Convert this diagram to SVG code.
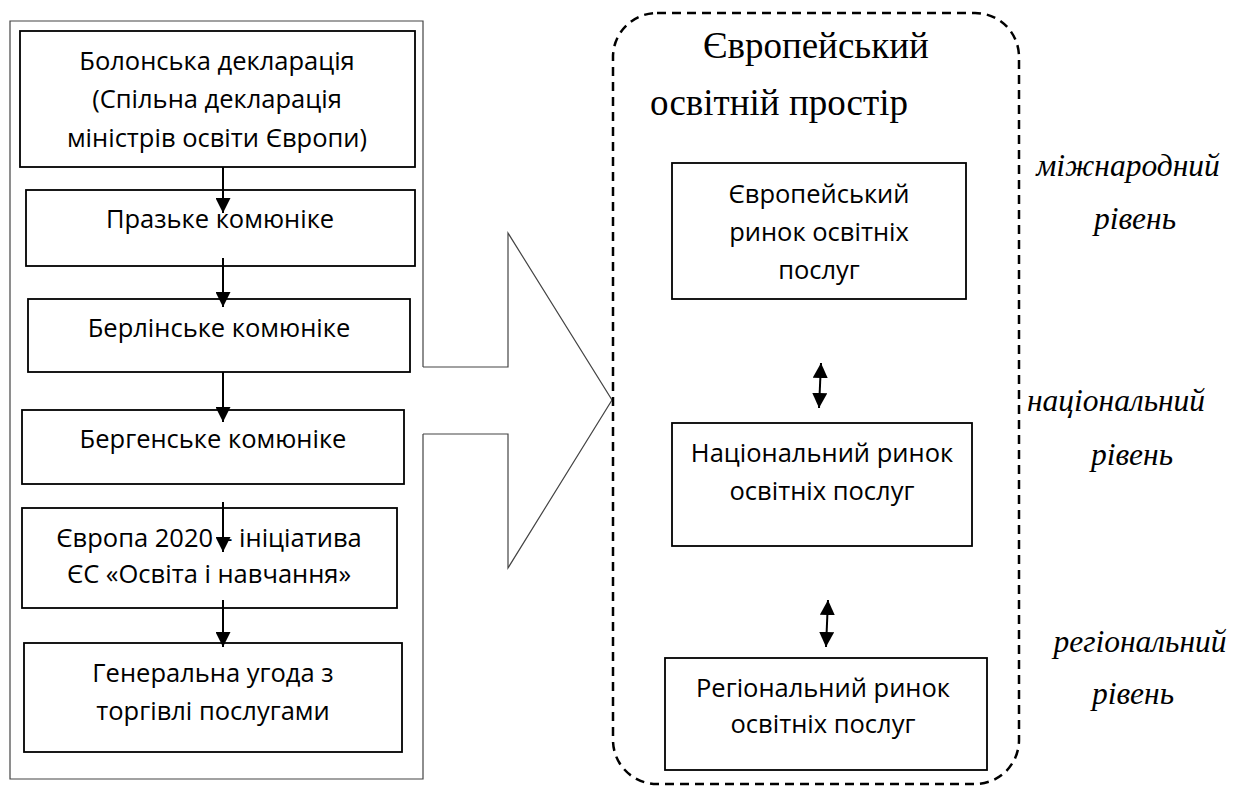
<svg xmlns="http://www.w3.org/2000/svg" width="1242" height="786" viewBox="0 0 1242 786">
<style>
.box{fill:#fff;stroke:#000;stroke-width:1.8}
.t{font-family:"Open Sans","Liberation Sans",sans-serif;font-size:25.5px;fill:#000;text-anchor:middle}
.title{font-family:"Liberation Serif","Times New Roman",serif;font-size:37px;fill:#000}
.lvl{font-family:"Liberation Serif","Times New Roman",serif;font-style:italic;font-size:31.5px;fill:#000;text-anchor:middle}
.ln{stroke:#000;stroke-width:2;fill:none}
.outline{fill:none;stroke:#444;stroke-width:1.2}
</style>
<defs>
<marker id="ah" viewBox="0 0 10 10" refX="10" refY="5" markerWidth="7.5" markerHeight="7.5" markerUnits="strokeWidth" orient="auto">
<path d="M0,0 L10,5 L0,10 Z" fill="#000"/>
</marker>
<marker id="ahs" viewBox="0 0 10 10" refX="0" refY="5" markerWidth="7.5" markerHeight="7.5" markerUnits="strokeWidth" orient="auto">
<path d="M10,0 L0,5 L10,10 Z" fill="#000"/>
</marker>
</defs>
<rect width="1242" height="786" fill="#fff"/>

<g id="frame">
<path class="outline" d="M423,367 L423,21 L10,21 L10,779 L423,779 L423,434"/>
<path class="outline" d="M423,367 L508,367 L508,233 L612,400 L508,568 L508,434 L423,434"/>
</g>

<g id="space">
<rect x="613" y="13" width="406" height="771" rx="44" ry="44" fill="none" stroke="#000" stroke-width="2.5" stroke-dasharray="9,6"/>
<text class="title" x="703" y="58">Європейський</text>
<text class="title" x="650" y="115">освітній простір</text>
</g>

<g id="n1"><rect class="box" x="20" y="31" width="395" height="136"/>
<text class="t" x="217" y="70">Болонська декларація</text>
<text class="t" x="217" y="108">(Спільна декларація</text>
<text class="t" x="217" y="147">міністрів освіти Європи)</text></g>
<g id="n2"><rect class="box" x="26" y="190" width="389" height="76"/>
<text class="t" x="220" y="228">Празьке комюніке</text></g>
<g id="n3"><rect class="box" x="28" y="299" width="382" height="73"/>
<text class="t" x="219" y="337">Берлінське комюніке</text></g>
<g id="n4"><rect class="box" x="22" y="410" width="382" height="74"/>
<text class="t" x="213" y="448">Бергенське комюніке</text></g>
<g id="n5"><rect class="box" x="22" y="508" width="375" height="100"/>
<text class="t" x="209" y="547">Європа 2020 – ініціатива</text>
<text class="t" x="209" y="583">ЄС «Освіта і навчання»</text></g>
<g id="n6"><rect class="box" x="24" y="643" width="378" height="109"/>
<text class="t" x="213" y="682">Генеральна угода з</text>
<text class="t" x="213" y="720">торгівлі послугами</text></g>

<g id="r1"><rect class="box" x="672" y="163" width="294" height="136"/>
<text class="t" x="819" y="203">Європейський</text>
<text class="t" x="819" y="241">ринок освітніх</text>
<text class="t" x="819" y="279">послуг</text></g>
<g id="r2"><rect class="box" x="672" y="423" width="300" height="123"/>
<text class="t" x="822" y="462">Національний ринок</text>
<text class="t" x="822" y="500">освітніх послуг</text></g>
<g id="r3"><rect class="box" x="665" y="658" width="322" height="112"/>
<text class="t" x="823" y="697">Регіональний ринок</text>
<text class="t" x="823" y="733">освітніх послуг</text></g>

<g id="levels">
<text class="lvl" x="1128" y="176">міжнародний</text>
<text class="lvl" x="1135" y="229">рівень</text>
<text class="lvl" x="1116" y="411">національний</text>
<text class="lvl" x="1132" y="465">рівень</text>
<text class="lvl" x="1140" y="652">регіональний</text>
<text class="lvl" x="1133" y="704">рівень</text>
</g>

<g id="connectors">
<line class="ln" x1="223" y1="167" x2="223" y2="213" marker-end="url(#ah)"/>
<line class="ln" x1="223" y1="258" x2="223" y2="307" marker-end="url(#ah)"/>
<line class="ln" x1="223" y1="372" x2="223" y2="422" marker-end="url(#ah)"/>
<line class="ln" x1="223" y1="502" x2="223" y2="552" marker-end="url(#ah)"/>
<line class="ln" x1="223" y1="600" x2="223" y2="647" marker-end="url(#ah)"/>
<line class="ln" x1="821" y1="363" x2="819" y2="408" marker-start="url(#ahs)" marker-end="url(#ah)"/>
<line class="ln" x1="828" y1="600" x2="826" y2="647" marker-start="url(#ahs)" marker-end="url(#ah)"/>
</g>
</svg>
